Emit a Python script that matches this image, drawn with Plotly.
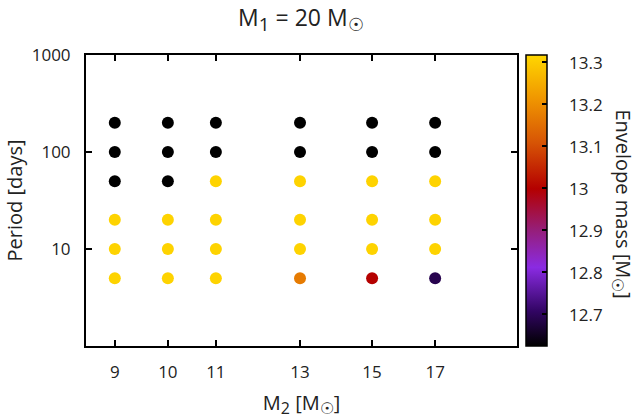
import plotly.graph_objects as go

# Companion masses (M_sun) and orbital periods (days) of the grid
m2_values = [9, 10, 11, 13, 15, 17]
periods = [5, 10, 20, 50, 100, 200]

# Envelope mass (M_sun) for each period row, one entry per M2 column
envelope_mass = {
    5:   [13.31, 13.31, 13.31, 13.17, 13.00, 12.69],
    10:  [13.31, 13.31, 13.31, 13.31, 13.31, 13.31],
    20:  [13.31, 13.31, 13.31, 13.31, 13.31, 13.31],
    50:  [12.62, 12.62, 13.31, 13.31, 13.31, 13.31],
    100: [12.62, 12.62, 12.62, 12.62, 12.62, 12.62],
    200: [12.62, 12.62, 12.62, 12.62, 12.62, 12.62],
}

cb_min, cb_max = 12.624, 13.317
cb_ticks = [12.7, 12.8, 12.9, 13.0, 13.1, 13.2, 13.3]
cb_ticktext = ["12.7", "12.8", "12.9", "13", "13.1", "13.2", "13.3"]

xs, ys, cs = [], [], []
for p in periods:
    for m2, mass in zip(m2_values, envelope_mass[p]):
        xs.append(m2)
        ys.append(p)
        cs.append(mass)

colorscale = [
    [0.0, "rgb(0,0,0)"],
    [0.12, "rgb(50,5,100)"],
    [0.27, "rgb(138,43,226)"],
    [0.40, "rgb(150,30,120)"],
    [0.54, "rgb(180,0,0)"],
    [0.70, "rgb(215,85,5)"],
    [0.85, "rgb(240,150,0)"],
    [1.0, "rgb(255,215,0)"],
]

FAMILY = "Open Sans"
tick_font = dict(family=FAMILY, size=17, color="#222")
label_font = dict(family=FAMILY, size=20, color="#222")
title_font = dict(family=FAMILY, size=23, color="#222")


def sub(text, px):
    """Subscript drawn at an explicit pixel size."""
    return f"<sub><span style='font-size:{px}px'>{text}</span></sub>"


PLOT_W = 431
CB_X = 1.021  # left edge of the colour bar, in paper units
CB_W = 21

fig = go.Figure(go.Scatter(
    x=xs, y=ys, mode="markers",
    marker=dict(
        size=12, color=cs, colorscale=colorscale, cmin=cb_min, cmax=cb_max,
        line=dict(width=0),
        colorbar=dict(
            x=CB_X, xanchor="left", xpad=0, y=0.5, yanchor="middle", ypad=0,
            len=1, lenmode="fraction", thickness=CB_W, thicknessmode="pixels",
            outlinecolor="black", outlinewidth=1.5,
            tickvals=cb_ticks, showticklabels=False,
            ticks="inside", ticklen=5, tickcolor="black", tickwidth=1.5,
        ),
    ),
    showlegend=False,
))

# colour bar: tick marks on the left edge and the tick labels
for v, txt in zip(cb_ticks, cb_ticktext):
    yp = (v - cb_min) / (cb_max - cb_min)
    fig.add_shape(type="line", xref="paper", yref="paper",
                  x0=CB_X, x1=CB_X + 5 / PLOT_W, y0=yp, y1=yp,
                  line=dict(color="black", width=1.5))
    fig.add_annotation(text=txt, xref="paper", yref="paper",
                       x=CB_X + (CB_W + 20) / PLOT_W, y=yp,
                       xanchor="left", yanchor="middle", showarrow=False,
                       font=tick_font)

# colour bar title, reading top to bottom
fig.add_annotation(text="Envelope mass [M" + sub("☉", 16) + "]", xref="paper", yref="paper",
                   x=(622 - 86) / PLOT_W, y=0.49, xanchor="center", yanchor="middle",
                   textangle=90, showarrow=False, font=label_font)

axis_common = dict(
    showline=True, linecolor="black", linewidth=2, mirror="allticks",
    ticks="inside", ticklen=6, tickcolor="black", tickwidth=1.5,
    showgrid=False, zeroline=False, tickfont=tick_font, automargin=False,
)

fig.update_layout(
    width=636, height=419,
    margin=dict(l=86, r=119, t=55, b=73),
    paper_bgcolor="white", plot_bgcolor="white",
    font=tick_font,
    title=dict(text="M" + sub("1", 19) + " = 20 M" + sub("☉", 18), x=0.473, xanchor="center",
               y=0.957, yanchor="middle", font=title_font),
    xaxis=dict(type="log", range=[0.92942, 1.30103], tickvals=m2_values,
               ticktext=[str(v) for v in m2_values], ticklabelstandoff=10,
               title=dict(text="M" + sub("2", 16) + " [M" + sub("☉", 16) + "]",
                          standoff=14, font=label_font),
               **axis_common),
    yaxis=dict(type="log", range=[0, 3], tickvals=[10, 100, 1000],
               ticktext=["10", "100", "1000"], ticklabelstandoff=10,
               title=dict(text="Period [days]", standoff=4, font=label_font),
               **axis_common),
)

fig.write_html("out.html")
